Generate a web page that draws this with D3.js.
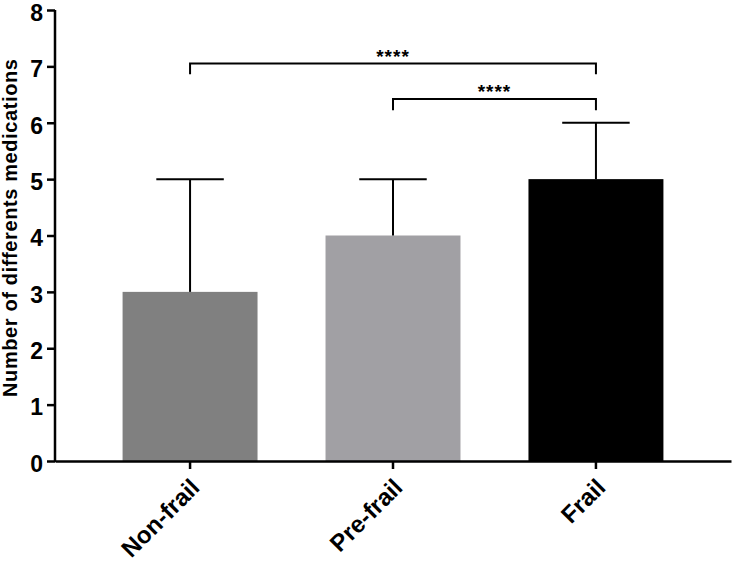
<!DOCTYPE html>
<html>
<head>
<meta charset="utf-8">
<script src="https://cdn.jsdelivr.net/npm/d3@7"></script>
<style>
  body { margin: 0; background: #fff; }
  text { font-family: "Liberation Sans", Arial, sans-serif; font-weight: bold; }
</style>
</head>
<body>
<svg id="chart" width="735" height="563"></svg>
<script>
// 数据
const categories = ['Non-frail', 'Pre-frail', 'Frail'];
const means = [3, 4, 5];
const upperErr = [5, 5, 6];
const barColors = ['#808080', '#a1a0a4', '#000000'];
const yTicks = [0, 1, 2, 3, 4, 5, 6, 7, 8];
// 显著性标注: 起始类别, 结束类别, 横线高度, 竖线底部, 文本
const sigFrom = ['Non-frail', 'Pre-frail'];
const sigTo = ['Frail', 'Frail'];
const sigTop = [7.05, 6.42];
const sigBottom = [6.86, 6.22];
const sigLabel = ['****', '****'];

const svg = d3.select('#chart');
const mLeft = 55, mRight = 731, mTop = 10, mBottom = 461;

const x = d3.scaleBand().domain(categories).range([mLeft, mRight])
    .paddingInner(0.335).paddingOuter(0.333);
const y = d3.scaleLinear().domain([0, 8]).range([mBottom, mTop]);

// 柱子
svg.append('g').selectAll('rect').data(categories).join('rect')
    .attr('x', d => x(d))
    .attr('y', (d, i) => y(means[i]))
    .attr('width', x.bandwidth())
    .attr('height', (d, i) => y(0) - y(means[i]))
    .attr('fill', (d, i) => barColors[i]);

// 误差线 (只画上半部分)
const err = svg.append('g').attr('stroke', '#000').attr('stroke-width', 2);
categories.forEach((c, i) => {
    const cx = x(c) + x.bandwidth() / 2;
    const cap = x.bandwidth() / 4;
    err.append('line').attr('x1', cx).attr('x2', cx)
        .attr('y1', y(means[i])).attr('y2', y(upperErr[i]));
    err.append('line').attr('x1', cx - cap).attr('x2', cx + cap)
        .attr('y1', y(upperErr[i])).attr('y2', y(upperErr[i]));
});

// y轴
const yAxis = svg.append('g').attr('transform', `translate(${mLeft},0)`)
    .call(d3.axisLeft(y).tickValues(yTicks).tickSize(8).tickPadding(4));
yAxis.select('.domain').attr('stroke-width', 2.5).attr('d', `M0,${mBottom + 1}V${mTop}`);
yAxis.selectAll('.tick line').attr('stroke-width', 2.5);
yAxis.selectAll('.tick text').attr('font-size', 23).attr('fill', '#000')
    .attr('dy', '0.45em');

// x轴
const xAxis = svg.append('g').attr('transform', `translate(0,${mBottom})`)
    .call(d3.axisBottom(x).tickSize(8).tickSizeOuter(0));
xAxis.select('.domain').attr('stroke-width', 2.5);
xAxis.selectAll('.tick line').attr('stroke-width', 2.5);
xAxis.selectAll('.tick text')
    .attr('font-size', 24).attr('fill', '#000')
    .attr('text-anchor', 'end')
    .attr('dy', null).attr('y', 0)
    .attr('transform', 'translate(11,28) rotate(-45)');

// y轴标题
svg.append('text')
    .attr('transform', 'translate(17,228) rotate(-90)')
    .attr('text-anchor', 'middle')
    .attr('font-size', 20)
    .attr('textLength', 338)
    .attr('lengthAdjust', 'spacing')
    .text('Number of differents medications');

// 显著性括号
const sig = svg.append('g');
sigFrom.forEach((f, i) => {
    const x1 = x(f) + x.bandwidth() / 2, x2 = x(sigTo[i]) + x.bandwidth() / 2;
    sig.append('path')
        .attr('d', `M${x1},${y(sigBottom[i])}V${y(sigTop[i])}H${x2}V${y(sigBottom[i])}`)
        .attr('fill', 'none').attr('stroke', '#000').attr('stroke-width', 2);
    sig.append('text')
        .attr('x', (x1 + x2) / 2).attr('y', y(sigTop[i]) - 1)
        .attr('text-anchor', 'middle')
        .attr('font-size', 19).attr('font-weight', 'normal')
        .attr('letter-spacing', 1)
        .text(sigLabel[i]);
});
</script>
</body>
</html>
